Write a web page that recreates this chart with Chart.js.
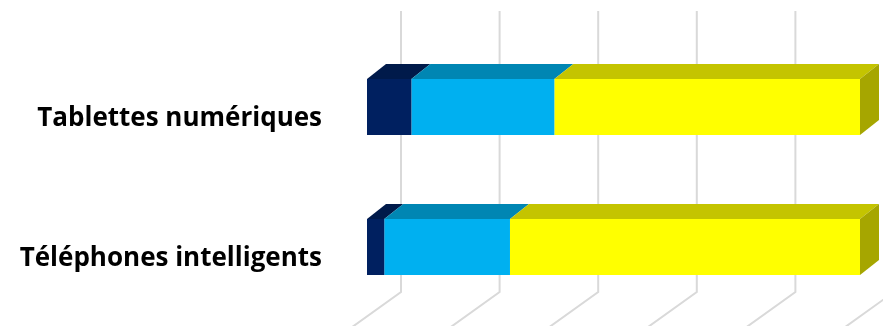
<!DOCTYPE html>
<html>
<head>
<meta charset="utf-8">
<script src="https://cdn.jsdelivr.net/npm/chart.js@4.4.0/dist/chart.umd.min.js"></script>
<style>
  html, body { margin: 0; padding: 0; background: #fff; }
  #wrap { width: 883px; height: 326px; }
</style>
</head>
<body>
<div id="wrap"><canvas id="chart"></canvas></div>
<script>
const categories = ['Tablettes numériques', 'Téléphones intelligents'];
const seriesA = [9, 3.5];
const seriesB = [29, 25.5];
const seriesC = [62, 71];
const gridValues = [0, 20, 40, 60, 80, 100];

// front / top / side shades of each series
const shades = [
  { front: '#002060', top: '#001a4a', side: '#00163f' },
  { front: '#00b0f0', top: '#0086b3', side: '#006f94' },
  { front: '#ffff00', top: '#c4c400', side: '#a6a600' },
];
const DX = 19, DY = 15;       // bar depth
const WALL_DX = 34;           // back wall offset from bar fronts

const depth3d = {
  id: 'depth3d',
  beforeDatasetsDraw(chart) {
    const { ctx } = chart;
    const x = chart.scales.x;
    ctx.save();
    ctx.strokeStyle = '#d9d9d9';
    ctx.lineWidth = 2;
    gridValues.forEach(v => {
      const px = x.getPixelForValue(v) + WALL_DX;
      ctx.beginPath();
      ctx.moveTo(px, 11);
      ctx.lineTo(px, 292);
      ctx.lineTo(px - 92, 292 + 66);
      ctx.stroke();
    });
    ctx.restore();
  },
  afterDatasetsDraw(chart) {
    const { ctx } = chart;
    const n = chart.data.datasets.length;
    ctx.save();
    chart.data.datasets.forEach((ds, di) => {
      const meta = chart.getDatasetMeta(di);
      meta.data.forEach(bar => {
        const top = bar.y - bar.height / 2;
        const bottom = bar.y + bar.height / 2;
        const l = Math.min(bar.base, bar.x), r = Math.max(bar.base, bar.x);
        ctx.fillStyle = shades[di].top;
        ctx.beginPath();
        ctx.moveTo(l, top);
        ctx.lineTo(r, top);
        ctx.lineTo(r + DX, top - DY);
        ctx.lineTo(l + DX, top - DY);
        ctx.closePath();
        ctx.fill();
        if (di === n - 1) {
          ctx.fillStyle = shades[di].side;
          ctx.beginPath();
          ctx.moveTo(r, top);
          ctx.lineTo(r + DX, top - DY);
          ctx.lineTo(r + DX, bottom - DY);
          ctx.lineTo(r, bottom);
          ctx.closePath();
          ctx.fill();
        }
      });
    });
    ctx.restore();
  }
};

new Chart(document.getElementById('chart'), {
  type: 'bar',
  data: {
    labels: categories,
    datasets: [
      { label: 'Série 1', data: seriesA, backgroundColor: shades[0].front },
      { label: 'Série 2', data: seriesB, backgroundColor: shades[1].front },
      { label: 'Série 3', data: seriesC, backgroundColor: shades[2].front },
    ]
  },
  options: {
    indexAxis: 'y',
    responsive: true, maintainAspectRatio: false,
    animation: false,
    categoryPercentage: 1, barPercentage: 0.4,
    layout: { padding: { top: 37, bottom: 9, right: 23, left: 0 } },
    plugins: { legend: { display: false }, tooltip: { enabled: false } },
    scales: {
      x: { stacked: true, min: 0, max: 100, display: false },
      y: {
        stacked: true,
        grid: { display: false, drawTicks: true, tickLength: 45 },
        border: { display: false },
        ticks: {
          color: '#000', padding: 0, labelOffset: 12,
          font: { family: 'Open Sans', weight: 'bold', size: 26, lineHeight: 0.6 }
        },
        afterFit(s) { s.width = 367; }
      }
    }
  },
  plugins: [depth3d]
});
</script>
</body>
</html>
